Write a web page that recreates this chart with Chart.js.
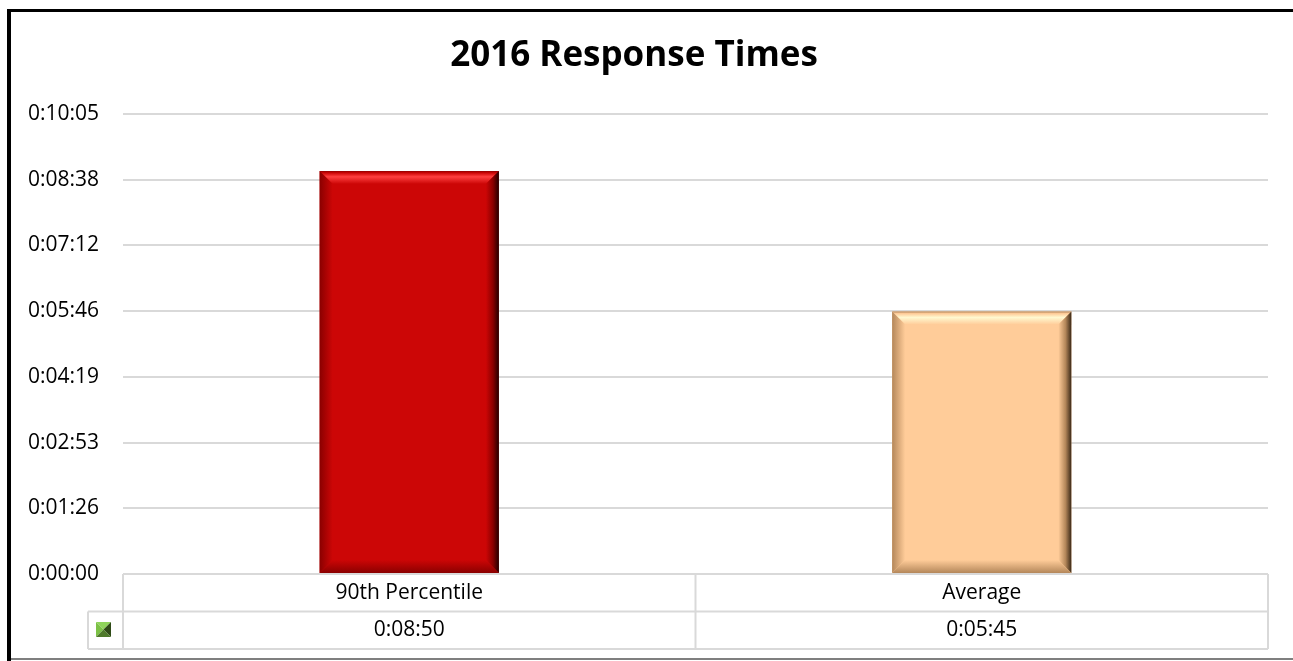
<!DOCTYPE html>
<html>
<head>
<meta charset="utf-8">
<title>2016 Response Times</title>
<script src="https://cdn.jsdelivr.net/npm/chart.js@4/dist/chart.umd.min.js"></script>
<style>
  html, body { margin: 0; padding: 0; background: #fff; }
  #wrap { width: 1293px; height: 661px; position: relative; }
</style>
</head>
<body>
<div id="wrap"><canvas id="respChart"></canvas></div>
<script>
// data
const categories = ['90th Percentile', 'Average'];
const responseSeconds = [530, 345];      // 0:08:50 and 0:05:45
const yTickStep = 86.4;                  // 0:01:26 (Excel 0.001 day)
const yMax = 604.8;                      // 0:10:05

const barColors = ['#CC0606', '#FFCC99'];
const barLight  = ['#FF4040', '#FFF8D0'];
const barDark   = ['#220000', '#3a2816'];
const barMid    = ['#8a0000', '#b4875a'];

const FONT = '"Open Sans", Lato, sans-serif';
const gridColor = '#d9d9d9';

function fmtTime(sec) {
    const s = Math.round(sec);
    const h = Math.floor(s / 3600);
    const m = Math.floor((s % 3600) / 60);
    const ss = s % 60;
    return h + ':' + String(m).padStart(2, '0') + ':' + String(ss).padStart(2, '0');
}

// outer frame like the excel chart border
const framePlugin = {
    id: 'frame',
    beforeDraw(chart) {
        const ctx = chart.ctx;
        ctx.save();
        ctx.fillStyle = '#fff';
        ctx.fillRect(0, 0, chart.width, chart.height);
        ctx.fillStyle = '#000';
        ctx.fillRect(7, 9, chart.width - 7, 3);
        ctx.fillRect(7, 9, 4, chart.height - 9);
        ctx.fillStyle = '#7f7f7f';
        ctx.fillRect(11, 658, chart.width - 11, 2);
        ctx.restore();
    }
};

// bevel shading on top of each bar
const bevelPlugin = {
    id: 'bevel',
    afterDatasetsDraw(chart) {
        const ctx = chart.ctx;
        const meta = chart.getDatasetMeta(0);
        meta.data.forEach((bar, i) => {
            const l = bar.x - bar.width / 2, r = bar.x + bar.width / 2;
            const t = bar.y, b = bar.base;
            const bv = 13;
            ctx.save();
            // top
            let g = ctx.createLinearGradient(0, t, 0, t + bv);
            g.addColorStop(0, barMid[i]);
            g.addColorStop(0.15, barColors[i]);
            g.addColorStop(0.45, barLight[i]);
            g.addColorStop(1, barColors[i]);
            ctx.fillStyle = g;
            ctx.beginPath();
            ctx.moveTo(l, t); ctx.lineTo(r, t); ctx.lineTo(r - bv, t + bv); ctx.lineTo(l + bv, t + bv);
            ctx.closePath(); ctx.fill();
            // left
            g = ctx.createLinearGradient(l, 0, l + bv, 0);
            g.addColorStop(0, barMid[i]);
            g.addColorStop(1, barColors[i]);
            ctx.fillStyle = g;
            ctx.beginPath();
            ctx.moveTo(l, t); ctx.lineTo(l + bv, t + bv); ctx.lineTo(l + bv, b - bv); ctx.lineTo(l, b);
            ctx.closePath(); ctx.fill();
            // right
            g = ctx.createLinearGradient(r - bv, 0, r, 0);
            g.addColorStop(0, barColors[i]);
            g.addColorStop(0.55, barMid[i]);
            g.addColorStop(1, barDark[i]);
            ctx.fillStyle = g;
            ctx.beginPath();
            ctx.moveTo(r, t); ctx.lineTo(r, b); ctx.lineTo(r - bv, b - bv); ctx.lineTo(r - bv, t + bv);
            ctx.closePath(); ctx.fill();
            // bottom
            g = ctx.createLinearGradient(0, b - bv, 0, b);
            g.addColorStop(0, barColors[i]);
            g.addColorStop(1, barMid[i]);
            ctx.fillStyle = g;
            ctx.beginPath();
            ctx.moveTo(l, b); ctx.lineTo(r, b); ctx.lineTo(r - bv, b - bv); ctx.lineTo(l + bv, b - bv);
            ctx.closePath(); ctx.fill();
            ctx.restore();
        });
    }
};

// data table under the plot
const tablePlugin = {
    id: 'dataTable',
    afterDraw(chart) {
        const ctx = chart.ctx;
        const xs = chart.scales.x;
        const area = chart.chartArea;
        const top = area.bottom, mid = top + 37.5, bot = top + 75;
        const keyLeft = 88;
        ctx.save();
        ctx.strokeStyle = gridColor;
        ctx.lineWidth = 2;
        ctx.beginPath();
        ctx.moveTo(area.left, top); ctx.lineTo(area.right, top);
        ctx.moveTo(keyLeft, mid); ctx.lineTo(area.right, mid);
        ctx.moveTo(keyLeft, bot); ctx.lineTo(area.right, bot);
        ctx.moveTo(keyLeft, mid); ctx.lineTo(keyLeft, bot);
        for (let i = 0; i <= categories.length; i++) {
            const x = xs.getPixelForValue(i - 0.5);
            ctx.moveTo(x, top); ctx.lineTo(x, bot);
        }
        ctx.stroke();

        ctx.fillStyle = '#000';
        ctx.font = '21px ' + FONT;
        ctx.textAlign = 'center';
        ctx.textBaseline = 'middle';
        categories.forEach((c, i) => {
            const x = xs.getPixelForValue(i);
            ctx.fillText(c, x, top + 19);
            ctx.fillText(fmtTime(responseSeconds[i]), x, mid + 19);
        });

        // legend key, small beveled square
        const kx = 96, ky = 622, ks = 15, cx = kx + ks / 2, cy = ky + ks / 2;
        const tri = (pts, col) => {
            ctx.fillStyle = col;
            ctx.beginPath();
            ctx.moveTo(pts[0], pts[1]); ctx.lineTo(pts[2], pts[3]); ctx.lineTo(pts[4], pts[5]);
            ctx.closePath(); ctx.fill();
        };
        tri([kx, ky, kx + ks, ky, cx, cy], '#8fd45a');
        tri([kx, ky, kx, ky + ks, cx, cy], '#7cc146');
        tri([kx + ks, ky, kx + ks, ky + ks, cx, cy], '#2f4a17');
        tri([kx, ky + ks, kx + ks, ky + ks, cx, cy], '#4f7a2b');
        ctx.restore();
    }
};

const ctx = document.getElementById('respChart').getContext('2d');
const chart = new Chart(ctx, {
    type: 'bar',
    data: {
        labels: categories,
        datasets: [{
            label: 'Response time',
            data: responseSeconds,
            backgroundColor: barColors,
            borderWidth: 0,
            categoryPercentage: 1.0,
            barPercentage: 0.313
        }]
    },
    options: {
        responsive: true,
        maintainAspectRatio: false,
        animation: false,
        layout: { padding: { left: 0, right: 25, top: 0, bottom: 87 } },
        plugins: {
            legend: { display: false },
            tooltip: { enabled: false },
            title: {
                display: true,
                text: '2016 Response Times',
                color: '#000',
                font: { family: FONT, size: 35, weight: 'bold', lineHeight: 1.2 },
                padding: { top: 35, bottom: 37 }
            }
        },
        scales: {
            x: { display: false, offset: true },
            y: {
                min: 0,
                max: yMax,
                afterFit(scale) { scale.width = 123; },
                border: { display: false },
                grid: { color: gridColor, lineWidth: 2, drawTicks: false },
                ticks: {
                    stepSize: yTickStep,
                    padding: 24,
                    color: '#000',
                    font: { family: FONT, size: 21 },
                    callback: v => fmtTime(v)
                }
            }
        }
    },
    plugins: [framePlugin, bevelPlugin, tablePlugin]
});
</script>
</body>
</html>
